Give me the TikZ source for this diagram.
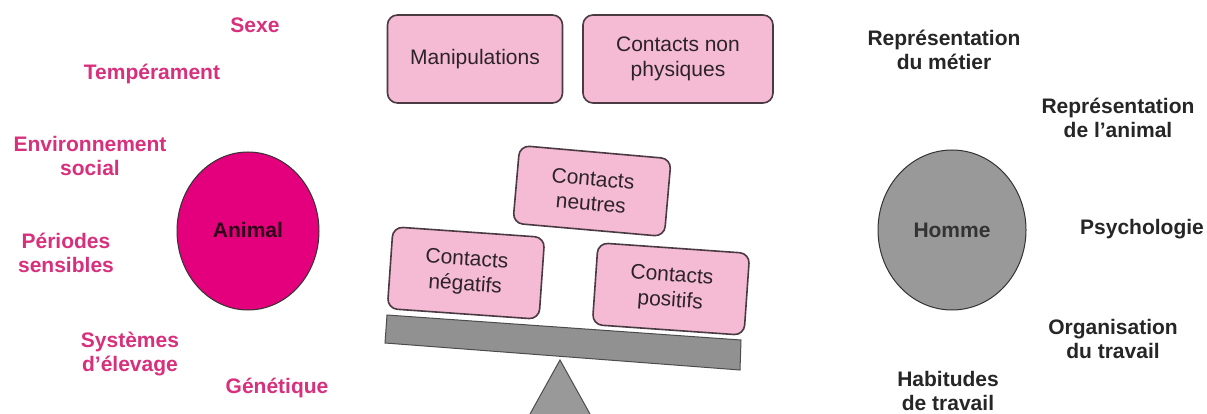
\documentclass[tikz,border=0pt]{standalone}
\usepackage{fontspec}
\setmainfont{Liberation Sans}
\usepackage{tikz}

\definecolor{rose}{HTML}{D8307C}
\definecolor{magenta}{HTML}{E4007D}
\definecolor{boxpink}{HTML}{F5BAD4}
\definecolor{boxline}{HTML}{4A3A42}
\definecolor{grisfond}{HTML}{999999}

\tikzset{
    facteur/.style={text=rose, font=\fontsize{21}{24}\selectfont\bfseries, align=center},
    facteurh/.style={text=black!85, font=\fontsize{21}{24}\selectfont\bfseries, align=center},
    contact/.style={draw=boxline, line width=1.6pt, fill=boxpink, rounded corners=10pt,
        font=\fontsize{21}{25}\selectfont, text=boxline!60!black, align=center, inner sep=0pt}
}

\begin{document}
\begin{tikzpicture}[x=1pt, y=-1pt]
    \useasboundingbox (0,0) rectangle (1207,414);
    \clip (0,0) rectangle (1207,414);
    \fill[white] (0,0) rectangle (1207,414);

    % Factors on the animal side
    \node[facteur] (sexe) at (255,25) {Sexe};
    \node[facteur] (temperament) at (152,74) {Tempérament};
    \node[facteur] (environnement) at (90,156) {Environnement\\social};
    \node[facteur] (periodes) at (66,253) {Périodes\\sensibles};
    \node[facteur] (systemes) at (130,354) {Systèmes\\d'élevage};
    \node[facteur] (genetique) at (277,388) {Génétique};

    % The animal
    \draw[fill=magenta, draw=black!80, line width=1pt] (248,231) ellipse (71 and 79);
    \node[text=black!80!magenta, font=\fontsize{21}{24}\selectfont\bfseries] (animal) at (248,230) {Animal};

    % Kinds of contacts
    \node[contact, minimum width=175, minimum height=88] (manipulations) at (475,59) {Manipulations};
    \node[contact, minimum width=190, minimum height=88] (nonphysiques) at (678,59) {Contacts non\\physiques};
    \node[contact, minimum width=152, minimum height=78, rotate=-5] (neutres) at (592,191) {Contacts\\neutres};
    \node[contact, minimum width=152, minimum height=82, rotate=-4] (negatifs) at (466,273) {Contacts\\négatifs};
    \node[contact, minimum width=152, minimum height=82, rotate=-4] (positifs) at (671,289) {Contacts\\positifs};

    % The balance
    \draw[fill=grisfond!95!black, draw=black!70, line width=1pt] (387,315) -- (741,340) -- (740,370) -- (385,343) -- cycle;
    \draw[fill=grisfond, draw=black!70, line width=1pt] (560,360) -- (600,432) -- (520,432) -- cycle;

    % The human
    \draw[fill=grisfond, draw=black!80, line width=1pt] (952,230) ellipse (74 and 80);
    \node[text=black!80, font=\fontsize{21}{24}\selectfont\bfseries] (homme) at (952,230) {Homme};

    % Factors on the human side
    \node[facteurh] (metier) at (944,50) {Représentation\\du métier};
    \node[facteurh] (reprani) at (1118,118) {Représentation\\de l'animal};
    \node[facteurh] (psycho) at (1142,229) {Psychologie};
    \node[facteurh] (organisation) at (1113,339) {Organisation\\du travail};
    \node[facteurh] (habitudes) at (948,391) {Habitudes\\de travail};
\end{tikzpicture}
\end{document}
